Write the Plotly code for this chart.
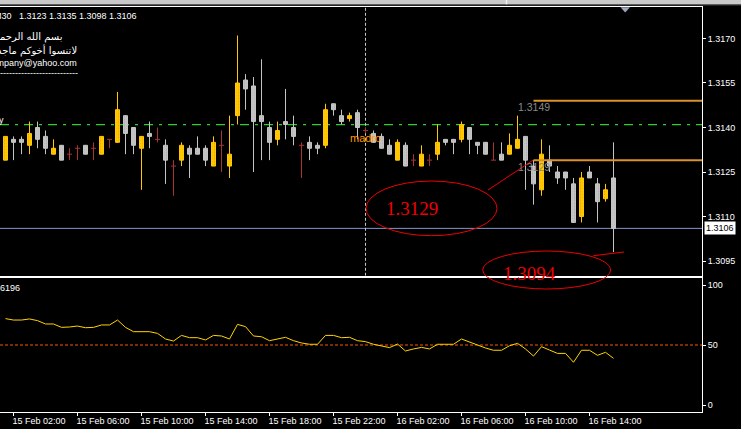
import plotly.graph_objects as go

W, H = 741, 429

# ---------------- data ----------------
time_labels = ["15 Feb 02:00", "15 Feb 06:00", "15 Feb 10:00", "15 Feb 14:00",
               "15 Feb 18:00", "15 Feb 22:00", "16 Feb 02:00", "16 Feb 06:00",
               "16 Feb 10:00", "16 Feb 14:00"]
time_tick_bars = [1, 9, 17, 25, 33, 41, 49, 57, 65, 73]

opens = [1.3129, 1.3136, 1.3136, 1.3134, 1.3140, 1.3137, 1.3131, 1.3134, 1.3131, 1.3133,
         1.3134, 1.3133, 1.3131, 1.3136, 1.3135, 1.3144, 1.3140, 1.3133, 1.3138, 1.3136,
         1.3134, 1.3127, 1.3129, 1.3133, 1.3133, 1.3133, 1.3127, 1.3134, 1.3127, 1.3144,
         1.3156, 1.3154, 1.3144, 1.3140, 1.3136, 1.3142, 1.3140, 1.3134, 1.3135, 1.3134,
         1.3134, 1.3148, 1.3144, 1.3143, 1.3145, 1.3139, 1.3138, 1.3137, 1.3134, 1.3129,
         1.3134, 1.3129, 1.3127, 1.3129, 1.3131, 1.3136, 1.3136, 1.3136, 1.3140, 1.3135,
         1.3135, 1.3129, 1.3131, 1.3131, 1.3133, 1.3137, 1.3127, 1.3119, 1.3129, 1.3125,
         1.3125, 1.3121, 1.3110, 1.3125, 1.3121, 1.3116, 1.3123]
highs = [1.3137, 1.3137, 1.3137, 1.3142, 1.3142, 1.3139, 1.3136, 1.3134, 1.3133, 1.3134,
         1.3134, 1.3135, 1.3137, 1.3136, 1.3152, 1.3144, 1.3140, 1.3137, 1.3142, 1.3140,
         1.3136, 1.3129, 1.3135, 1.3134, 1.3137, 1.3134, 1.3137, 1.3139, 1.3144, 1.3171,
         1.3158, 1.3157, 1.3163, 1.3142, 1.3142, 1.3153, 1.3144, 1.3135, 1.3137, 1.3135,
         1.3148, 1.3148, 1.3146, 1.3145, 1.3146, 1.3140, 1.3139, 1.3138, 1.3136, 1.3136,
         1.3135, 1.3131, 1.3134, 1.3131, 1.3141, 1.3136, 1.3136, 1.3142, 1.3140, 1.3135,
         1.3135, 1.3135, 1.3135, 1.3138, 1.3144, 1.3137, 1.3129, 1.3136, 1.3134, 1.3127,
         1.3125, 1.3123, 1.3125, 1.3127, 1.3123, 1.3121, 1.3135]
lows = [1.3129, 1.3129, 1.3131, 1.3131, 1.3133, 1.3131, 1.3131, 1.3129, 1.3129, 1.3129,
        1.3131, 1.3129, 1.3131, 1.3133, 1.3135, 1.3131, 1.3131, 1.3119, 1.3133, 1.3135,
        1.3121, 1.3117, 1.3127, 1.3123, 1.3131, 1.3127, 1.3127, 1.3125, 1.3123, 1.3141,
        1.3146, 1.3125, 1.3129, 1.3129, 1.3134, 1.3136, 1.3134, 1.3123, 1.3129, 1.3131,
        1.3133, 1.3144, 1.3141, 1.3142, 1.3136, 1.3138, 1.3135, 1.3133, 1.3131, 1.3129,
        1.3127, 1.3127, 1.3127, 1.3127, 1.3129, 1.3134, 1.3131, 1.3135, 1.3131, 1.3131,
        1.3131, 1.3129, 1.3129, 1.3131, 1.3133, 1.3119, 1.3114, 1.3117, 1.3125, 1.3121,
        1.3119, 1.3108, 1.3108, 1.3123, 1.3108, 1.3115, 1.3098]
closes = [1.3137, 1.3135, 1.3135, 1.3138, 1.3136, 1.3133, 1.3133, 1.3129, 1.3131, 1.3133,
          1.3131, 1.3133, 1.3137, 1.3136, 1.3146, 1.3138, 1.3134, 1.3137, 1.3137, 1.3136,
          1.3129, 1.3127, 1.3134, 1.3131, 1.3131, 1.3129, 1.3135, 1.3134, 1.3131, 1.3155,
          1.3153, 1.3142, 1.3142, 1.3135, 1.3139, 1.3141, 1.3137, 1.3134, 1.3133, 1.3133,
          1.3146, 1.3146, 1.3142, 1.3144, 1.3140, 1.3139, 1.3135, 1.3133, 1.3131, 1.3135,
          1.3127, 1.3129, 1.3131, 1.3129, 1.3135, 1.3135, 1.3135, 1.3141, 1.3136, 1.3134,
          1.3131, 1.3129, 1.3129, 1.3134, 1.3136, 1.3129, 1.3121, 1.3131, 1.3127, 1.3123,
          1.3123, 1.3108, 1.3123, 1.3123, 1.3115, 1.3119, 1.3106]
rsi_values = [72, 70.8, 70.8, 71.7, 70.3, 67.5, 67.5, 64.7, 65, 65.8,
              64.4, 64.7, 66.7, 66.7, 70.8, 64.7, 61.1, 61.1, 61.1, 59.7,
              55, 53.3, 58, 56.1, 56.1, 54.2, 58, 57.5, 55, 67.2,
              65.3, 57.5, 56.9, 53.6, 55, 56.4, 53.6, 51.7, 50.6, 50.6,
              58, 58, 56.1, 56.4, 53.6, 52.8, 50.6, 49.4, 47.8, 50.8,
              45, 46.7, 48, 46.7, 50.6, 50.6, 50.6, 55, 52.2, 50,
              47.5, 45.6, 45.6, 49.4, 51.4, 46.7, 40.8, 48.6, 45.8, 43,
              43, 35.6, 45.6, 45.6, 41.4, 43.9, 38.9]

price_ticks = [1.3095, 1.3110, 1.3125, 1.3140, 1.3155, 1.3170]
osc_ticks = [0, 50, 100]
osc_level = 50
green_level = 1.3141
orange_levels = [1.3149, 1.3129]
orange_from_bar = 66
vline_bar = 45
marked_high = 1.3129
marked_low = 1.3094

# ---------------- geometry (pixels) ----------------
PLOT_R = 702
MAIN_TOP, MAIN_BOT = 7, 275.8
SUB_TOP, SUB_BOT = 278.3, 411.7
XR = [-0.6875, 87.0625]
YR = [1.3090017, 1.3180613]
Y2R = [-5.58, 105.58]


def fx(px):
    return px / W


def fy(py):
    return 1 - py / H


MT_FONT = "Liberation Sans, Arial, sans-serif"
MT_SIZE = 9
GOLD = "#FFC800"
GOLD_DOT = "#E08A00"
SILVER = "#C4C4C4"
SILVER_DOT = "#9A9A9A"
DOJI = "#A83434"

idx = list(range(len(opens)))
bull, bear, doji = [], [], []
for i in idx:
    d = round(closes[i] - opens[i], 6)
    (bull if d > 0 else bear if d < 0 else doji).append(i)


def wick_xy(ids):
    xs, ys = [], []
    for i in ids:
        xs += [i, i, None]
        ys += [lows[i], highs[i], None]
    return xs, ys


fig = go.Figure()

for ids, col in ((bull, GOLD), (bear, SILVER), (doji, DOJI)):
    xs, ys = wick_xy(ids)
    fig.add_trace(go.Scatter(x=xs, y=ys, mode="lines", line=dict(color=col, width=1),
                             hoverinfo="skip", xaxis="x", yaxis="y"))

# doji horizontal ticks
dx, dy = [], []
for i in doji:
    dx += [i - 0.32, i + 0.32, None]
    dy += [opens[i], opens[i], None]
fig.add_trace(go.Scatter(x=dx, y=dy, mode="lines", line=dict(color=DOJI, width=1),
                         hoverinfo="skip", xaxis="x", yaxis="y"))

for ids, col, dot in ((bull, GOLD, GOLD_DOT), (bear, SILVER, SILVER_DOT)):
    fig.add_trace(go.Bar(
        x=ids,
        y=[abs(closes[i] - opens[i]) for i in ids],
        base=[min(opens[i], closes[i]) for i in ids],
        width=0.5,
        marker=dict(color=col, line=dict(color=col, width=1),
                    pattern=dict(shape=".", fgcolor=dot, bgcolor=col, size=3, solidity=0.3)),
        hoverinfo="skip", xaxis="x", yaxis="y"))

fig.add_trace(go.Scatter(x=idx, y=rsi_values, mode="lines",
                         line=dict(color="#FFD400", width=1),
                         hoverinfo="skip", xaxis="x2", yaxis="y2"))

shapes = []
# top window strip
shapes.append(dict(type="rect", xref="paper", yref="paper", x0=0, x1=1, y0=fy(4.3), y1=1,
                   fillcolor="#C9C9C9", line=dict(width=0), layer="above"))
shapes.append(dict(type="line", xref="paper", yref="paper", x0=0, x1=1, y0=fy(4.8), y1=fy(4.8),
                   line=dict(color="#6E6E6E", width=1), layer="above"))
shapes.append(dict(type="line", xref="paper", yref="paper", x0=fx(506.5), x1=fx(506.5), y0=fy(4.3), y1=1,
                   line=dict(color="#F0F0F0", width=1.5), layer="above"))
# levels
shapes.append(dict(type="line", xref="x", yref="y", x0=XR[0], x1=XR[1], y0=green_level, y1=green_level,
                   line=dict(color="#32CD32", width=1.3, dash="9px,6px,3px,6px"), layer="below"))
for lv in orange_levels:
    shapes.append(dict(type="line", xref="x", yref="y", x0=orange_from_bar, x1=XR[1], y0=lv, y1=lv,
                       line=dict(color="#D9922E", width=2), layer="above"))
shapes.append(dict(type="line", xref="x", yref="y", x0=XR[0], x1=XR[1], y0=closes[-1], y1=closes[-1],
                   line=dict(color="#8494CF", width=1), layer="below"))
shapes.append(dict(type="line", xref="x", yref="y", x0=vline_bar, x1=vline_bar, y0=YR[0], y1=YR[1],
                   line=dict(color="#C8C8C8", width=1, dash="3px,2px"), layer="below"))
shapes.append(dict(type="line", xref="x2", yref="y2", x0=XR[0], x1=XR[1], y0=osc_level, y1=osc_level,
                   line=dict(color="#FF5500", width=1, dash="3px,2px"), layer="below"))
# hand drawn ellipses and connectors
shapes.append(dict(type="circle", xref="paper", yref="paper", x0=fx(366), x1=fx(497),
                   y0=fy(235.7), y1=fy(181), line=dict(color="#F00000", width=1)))
shapes.append(dict(type="line", xref="paper", yref="paper", x0=fx(488), x1=fx(533.3),
                   y0=fy(190), y1=fy(160), line=dict(color="#F00000", width=1)))
shapes.append(dict(type="circle", xref="paper", yref="paper", x0=fx(482.7), x1=fx(610.7),
                   y0=fy(289), y1=fy(251), line=dict(color="#F00000", width=1)))
shapes.append(dict(type="line", xref="paper", yref="paper", x0=fx(593.3), x1=fx(624),
                   y0=fy(255.7), y1=fy(252), line=dict(color="#F00000", width=1)))
# shift marker
shapes.append(dict(type="path", xref="paper", yref="paper",
                   path=f"M {fx(620.5)},{fy(7.3)} L {fx(630)},{fy(7.3)} L {fx(625.2)},{fy(12.5)} Z",
                   fillcolor="#9EA7BC", line=dict(width=0)))

anns = []


def ann(text, px, py, xanchor="left", color="white", size=MT_SIZE, family=MT_FONT, **kw):
    d = dict(text=text, x=fx(px), y=fy(py), xref="paper", yref="paper", xanchor=xanchor,
             yanchor="middle", showarrow=False, font=dict(color=color, size=size, family=family))
    d.update(kw)
    anns.append(d)


ann("M30", -8, 15.7)
ann(" ".join(f"{v:.4f}" for v in (opens[-1], highs[-1], lows[-1], closes[-1])), 16.5, 15.7)
ann("بسم الله الرحمن الرحيم", 65, 37.5, xanchor="right", family="DejaVu Sans", size=10)
ann("لاتنسوا أخوكم ماجد", 79, 50.2, xanchor="right", family="DejaVu Sans", size=10)
ann("company@yahoo.com", 78.5, 62.5, xanchor="right")
ann("-" * 34, 80, 72.5, xanchor="right")
ann("y", 5.5, 119.5, xanchor="right")
ann("6196", 22, 288.3, xanchor="right")
ann("madro", 348, 138, color="#FF9A00", size=11)
for lv, py in zip(orange_levels, (106.7, 166.7)):
    ann(f"{lv:.4f}", 515.5, py, color="#8A8A8A", size=10.5)
ann(f"{marked_high:.4f}", 412, 208, xanchor="center", color="#F00000",
    family="Liberation Serif, Times New Roman, serif", size=19)
ann(f"{marked_low:.4f}", 529, 273.5, xanchor="center", color="#F00000",
    family="Liberation Serif, Times New Roman, serif", size=19)
ann(f"{closes[-1]:.4f}", 703.5, 228, color="black", bgcolor="white", borderpad=1)

axis_common = dict(showgrid=False, zeroline=False, showline=True, linecolor="white", linewidth=1)
tick_font = dict(color="white", size=MT_SIZE, family=MT_FONT)

fig.update_layout(
    width=W, height=H, autosize=False,
    margin=dict(l=0, r=0, t=0, b=0, pad=0),
    paper_bgcolor="black", plot_bgcolor="black",
    showlegend=False, barmode="overlay", hovermode=False,
    xaxis=dict(domain=[0, fx(PLOT_R)], range=XR, anchor="y", mirror=True,
               showticklabels=False, ticks="", **axis_common),
    yaxis=dict(domain=[fy(MAIN_BOT), fy(MAIN_TOP)], range=YR, anchor="x", side="right",
               ticks="outside", ticklen=3, tickcolor="white",
               tickvals=price_ticks, ticktext=[f"{v:.4f}" for v in price_ticks],
               tickfont=tick_font, **axis_common),
    xaxis2=dict(domain=[0, fx(PLOT_R)], range=XR, anchor="y2", mirror=True,
                ticks="outside", ticklen=3, tickcolor="white", tickangle=0,
                tickvals=time_tick_bars, ticktext=time_labels, ticklabelposition="outside right",
                ticklabelshift=-2, tickfont=tick_font, **axis_common),
    yaxis2=dict(domain=[fy(SUB_BOT), fy(SUB_TOP)], range=Y2R, anchor="x2", side="right",
                ticks="outside", ticklen=3, tickcolor="white",
                tickvals=osc_ticks, ticktext=[str(v) for v in osc_ticks],
                tickfont=tick_font, **axis_common),
    shapes=shapes, annotations=anns,
)

fig.write_html(
    "out.html",
    config={"displayModeBar": False, "staticPlot": True},
    post_script="document.body.style.margin='0';document.body.style.padding='0';"
                "document.body.style.overflow='hidden';document.body.style.background='black';",
)
